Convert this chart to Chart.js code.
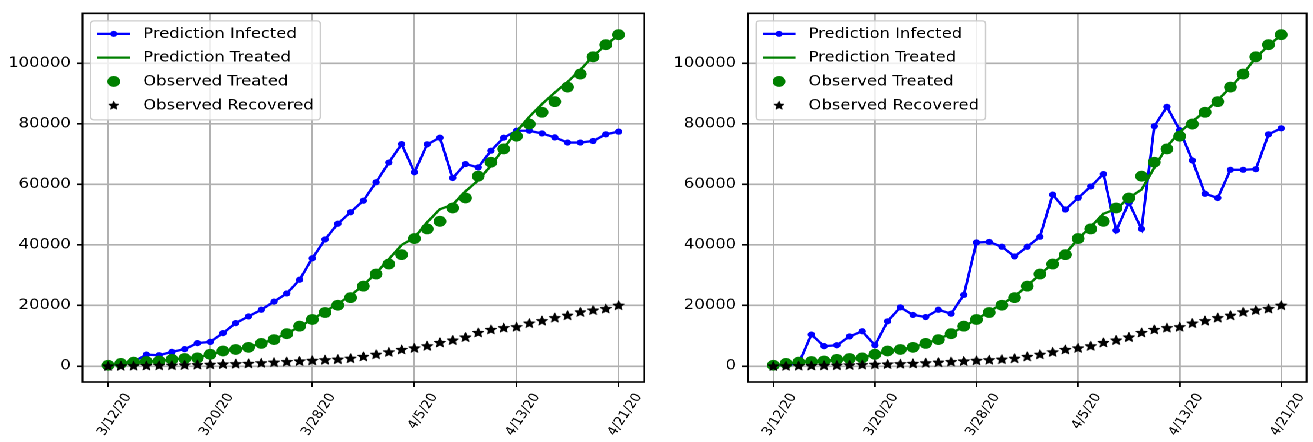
<!DOCTYPE html>
<html>
<head>
<meta charset="utf-8">
<script src="https://cdn.jsdelivr.net/npm/chart.js@4.4.1/dist/chart.umd.min.js"></script>
<style>
  html, body { margin: 0; padding: 0; background: #fff; overflow: hidden; }
  #fig { position: absolute; left: 0; top: 0; width: 1113px; height: 442px;
         transform: scaleX(1.17969); transform-origin: 0 0; }
  #fig canvas { position: absolute; top: 0; }
</style>
</head>
<body>
<div id="fig">
  <canvas id="leftPanel" style="left:0px"></canvas>
  <canvas id="rightPanel" style="left:560px"></canvas>
</div>
<script>
// Daily dates shown on the x axis
const dates = [
  '3/12/20','3/13/20','3/14/20','3/15/20','3/16/20','3/17/20','3/18/20','3/19/20',
  '3/20/20','3/21/20','3/22/20','3/23/20','3/24/20','3/25/20','3/26/20','3/27/20',
  '3/28/20','3/29/20','3/30/20','3/31/20','4/1/20','4/2/20','4/3/20','4/4/20',
  '4/5/20','4/6/20','4/7/20','4/8/20','4/9/20','4/10/20','4/11/20','4/12/20',
  '4/13/20','4/14/20','4/15/20','4/16/20','4/17/20','4/18/20','4/19/20','4/20/20',
  '4/21/20'
];
const xTickDates = ['3/12/20','3/20/20','3/28/20','4/5/20','4/13/20','4/21/20'];
const yTicks = [0, 20000, 40000, 60000, 80000, 100000];

// Observed series (shared by both panels)
const observedTreated = [
  300, 900, 1300, 1500, 1700, 2200, 2500, 2700, 3900, 5000,
  5500, 6200, 7500, 8750, 10700, 13200, 15400, 17700, 20100, 22600,
  26400, 30400, 33700, 36800, 42100, 45300, 47800, 52200, 55500, 62700,
  67300, 71700, 75900, 79900, 83800, 87300, 92100, 96400, 102100, 106100,
  109400
];
const observedRecovered = [
  50, 100, 150, 200, 250, 300, 400, 500, 600, 700,
  800, 900, 1100, 1300, 1500, 1700, 1900, 2100, 2300, 2600,
  3200, 3900, 4700, 5500, 6000, 6700, 7800, 8600, 9600, 11100,
  12100, 12700, 13000, 14200, 15000, 16000, 16800, 17900, 18500, 19000,
  20100
];

// Left panel predictions
const leftInfected = [
  300, 700, 1500, 3800, 3600, 4700, 5600, 7600, 8000, 10900,
  14200, 16400, 18600, 21300, 24000, 28500, 35600, 41800, 47000, 50800,
  54600, 60700, 67200, 73300, 64000, 73200, 75400, 62100, 66700, 65600,
  71100, 75400, 77700, 77700, 76800, 75500, 73800, 73800, 74300, 76500,
  77400
];
const leftTreated = [
  300, 800, 1200, 1500, 1800, 2100, 2500, 2900, 3800, 4800,
  5500, 6300, 7500, 8900, 10800, 13000, 15500, 18000, 20600, 23300,
  26700, 30700, 35300, 40000, 42400, 47500, 51800, 53300, 57700, 61300,
  66200, 71900, 77400, 82300, 86500, 90300, 93800, 97800, 102300, 106000,
  109300
];

// Right panel predictions
const rightInfected = [
  300, 300, 900, 10400, 6600, 6900, 9800, 11500, 6900, 14800,
  19400, 16900, 16200, 18600, 17300, 23500, 40800, 41000, 39400, 36200,
  39400, 42700, 56600, 51700, 55500, 59300, 63400, 44800, 53900, 45300,
  79200, 85600, 77900, 67900, 56900, 55500, 64800, 64800, 65000, 76500,
  78500
];
const rightTreated = [
  300, 800, 1200, 1500, 1800, 2100, 2500, 2900, 3800, 4800,
  5500, 6300, 7500, 8900, 10800, 13000, 15500, 18000, 20500, 23000,
  26500, 30300, 33800, 37200, 42000, 46000, 50300, 51800, 55500, 58300,
  65500, 72500, 77200, 80800, 84000, 87800, 92000, 96500, 101800, 105800,
  109300
];

const FONT = '"DejaVu Sans", "Liberation Sans", sans-serif';

// Filled five-pointed star used as a point marker
function makeStar(r) {
  const scale = 2;
  const size = Math.ceil(r * 2 + 2);
  const c = document.createElement('canvas');
  c.width = size * scale; c.height = size * scale;
  const g = c.getContext('2d');
  g.scale(scale, scale);
  g.translate(size / 2, size / 2 + r * 0.08);
  g.beginPath();
  for (let k = 0; k < 10; k++) {
    const rad = k % 2 ? r * 0.45 : r;
    const a = -Math.PI / 2 + k * Math.PI / 5;
    g.lineTo(rad * Math.cos(a), rad * Math.sin(a));
  }
  g.closePath();
  g.fillStyle = '#000';
  g.strokeStyle = '#000';
  g.lineWidth = 0.7;
  g.lineJoin = 'round';
  g.fill();
  g.stroke();
  c.logicalSize = size;
  return c;
}
const starMarker = makeStar(5);
const starLegend = makeStar(4.4);

function pts(values) {
  return values.map((v, i) => ({ x: i, y: v }));
}

// Star markers drawn at the points of the recovered series
const starPlugin = {
  id: 'starPoints',
  afterDatasetsDraw(chart) {
    const ctx = chart.ctx;
    const a = chart.chartArea;
    chart.data.datasets.forEach((d, di) => {
      if (!d.starMarker) return;
      const meta = chart.getDatasetMeta(di);
      ctx.save();
      ctx.beginPath();
      ctx.rect(a.left, a.top, a.right - a.left, a.bottom - a.top);
      ctx.clip();
      const s = starMarker.logicalSize;
      meta.data.forEach(p => {
        ctx.drawImage(starMarker, p.x - s / 2, p.y - s / 2, s, s);
      });
      ctx.restore();
    });
  }
};

// Axes frame and legend box drawn on top of the plot
const framePlugin = {
  id: 'frameAndLegend',
  afterDraw(chart) {
    const ctx = chart.ctx;
    const a = chart.chartArea;
    ctx.save();
    ctx.strokeStyle = '#000';
    ctx.lineWidth = 1.6;
    ctx.strokeRect(a.left, a.top, a.right - a.left, a.bottom - a.top);

    const fs = 13.9;
    ctx.font = fs + 'px ' + FONT;
    const sets = chart.data.datasets;
    let maxW = 0;
    sets.forEach(d => { maxW = Math.max(maxW, ctx.measureText(d.label).width); });
    const x0 = a.left + 6.9, y0 = a.top + 7.5;
    const pad = 5.6, handle = 27.8, gap = 11.1, rowH = 23.8, firstRow = 13;
    const w = pad + handle + gap + maxW + pad;
    const h = firstRow * 2 + rowH * (sets.length - 1) + 1.6;
    const r = 3;
    ctx.beginPath();
    ctx.moveTo(x0 + r, y0);
    ctx.lineTo(x0 + w - r, y0);
    ctx.quadraticCurveTo(x0 + w, y0, x0 + w, y0 + r);
    ctx.lineTo(x0 + w, y0 + h - r);
    ctx.quadraticCurveTo(x0 + w, y0 + h, x0 + w - r, y0 + h);
    ctx.lineTo(x0 + r, y0 + h);
    ctx.quadraticCurveTo(x0, y0 + h, x0, y0 + h - r);
    ctx.lineTo(x0, y0 + r);
    ctx.quadraticCurveTo(x0, y0, x0 + r, y0);
    ctx.closePath();
    ctx.fillStyle = 'rgba(255,255,255,0.8)';
    ctx.fill();
    ctx.strokeStyle = '#cccccc';
    ctx.lineWidth = 1.2;
    ctx.stroke();

    sets.forEach((d, i) => {
      const cy = y0 + firstRow + rowH * i;
      const hx0 = x0 + pad, hx1 = hx0 + handle, cx = (hx0 + hx1) / 2;
      if (d.showLine !== false) {
        ctx.strokeStyle = d.borderColor;
        ctx.lineWidth = d.borderWidth;
        ctx.beginPath();
        ctx.moveTo(hx0, cy);
        ctx.lineTo(hx1, cy);
        ctx.stroke();
      }
      if (d.starMarker) {
        const s = starLegend.logicalSize;
        ctx.drawImage(starLegend, cx - s / 2, cy - s / 2, s, s);
      } else if (d.pointRadius > 0) {
        ctx.fillStyle = d.pointBackgroundColor;
        ctx.beginPath();
        ctx.arc(cx, cy, d.legendRadius || d.pointRadius, 0, Math.PI * 2);
        ctx.fill();
      }
      ctx.fillStyle = '#000';
      ctx.textAlign = 'left';
      ctx.textBaseline = 'middle';
      ctx.fillText(d.label, hx1 + gap, cy + 0.5);
    });
    ctx.restore();
  }
};

function makePanel(id, width, yAxisWidth, padRight, infected, treated) {
  const canvas = document.getElementById(id);
  canvas.width = width;
  canvas.height = 442;
  return new Chart(canvas, {
    type: 'line',
    data: {
      datasets: [
        {
          label: 'Prediction Infected',
          data: pts(infected),
          borderColor: '#0000ff',
          backgroundColor: '#0000ff',
          borderWidth: 2.3,
          pointRadius: 3.1,
          pointBackgroundColor: '#0000ff',
          pointBorderWidth: 0,
          legendRadius: 3,
          tension: 0,
          order: 3
        },
        {
          label: 'Prediction Treated',
          data: pts(treated),
          borderColor: '#008000',
          backgroundColor: '#008000',
          borderWidth: 2.3,
          pointRadius: 0,
          tension: 0,
          order: 2
        },
        {
          label: 'Observed Treated',
          data: pts(observedTreated),
          showLine: false,
          borderColor: '#008000',
          borderWidth: 0,
          pointRadius: 5.4,
          pointBackgroundColor: '#008000',
          pointBorderWidth: 0,
          legendRadius: 5.4,
          order: 1
        },
        {
          label: 'Observed Recovered',
          data: pts(observedRecovered),
          showLine: false,
          borderColor: '#000',
          borderWidth: 0,
          pointRadius: 0,
          starMarker: true,
          order: 0
        }
      ]
    },
    options: {
      responsive: false,
      animation: false,
      devicePixelRatio: 2,
      events: [],
      layout: { padding: { top: 10, right: padRight, left: 0, bottom: 0 } },
      plugins: { legend: { display: false }, tooltip: { enabled: false } },
      scales: {
        x: {
          type: 'linear',
          min: -2,
          max: 42,
          afterBuildTicks(scale) {
            scale.ticks = xTickDates.map(d => ({ value: dates.indexOf(d) }));
          },
          afterFit(scale) { scale.height = 60; },
          ticks: {
            autoSkip: false,
            minRotation: 60,
            maxRotation: 60,
            labelOffset: 17,
            padding: 4,
            color: '#000',
            font: { family: FONT, size: 12 },
            callback: (v) => dates[v]
          },
          grid: { color: '#b0b0b0', lineWidth: 1.4, tickColor: '#000', tickLength: 5, tickWidth: 1.4 },
          border: { display: false }
        },
        y: {
          type: 'linear',
          min: -5240,
          max: 116450,
          afterBuildTicks(scale) {
            scale.ticks = yTicks.map(v => ({ value: v }));
          },
          afterFit(scale) { scale.width = yAxisWidth; },
          ticks: {
            padding: 5,
            color: '#000',
            font: { family: FONT, size: 13.9 },
            callback: (v) => String(v)
          },
          grid: { color: '#b0b0b0', lineWidth: 1.6, tickColor: '#000', tickLength: 5, tickWidth: 1.6 },
          border: { display: false }
        }
      }
    },
    plugins: [starPlugin, framePlugin]
  });
}

makePanel('leftPanel', 560, 70, 14, leftInfected, leftTreated);
makePanel('rightPanel', 553, 74, 3, rightInfected, rightTreated);
</script>
</body>
</html>
